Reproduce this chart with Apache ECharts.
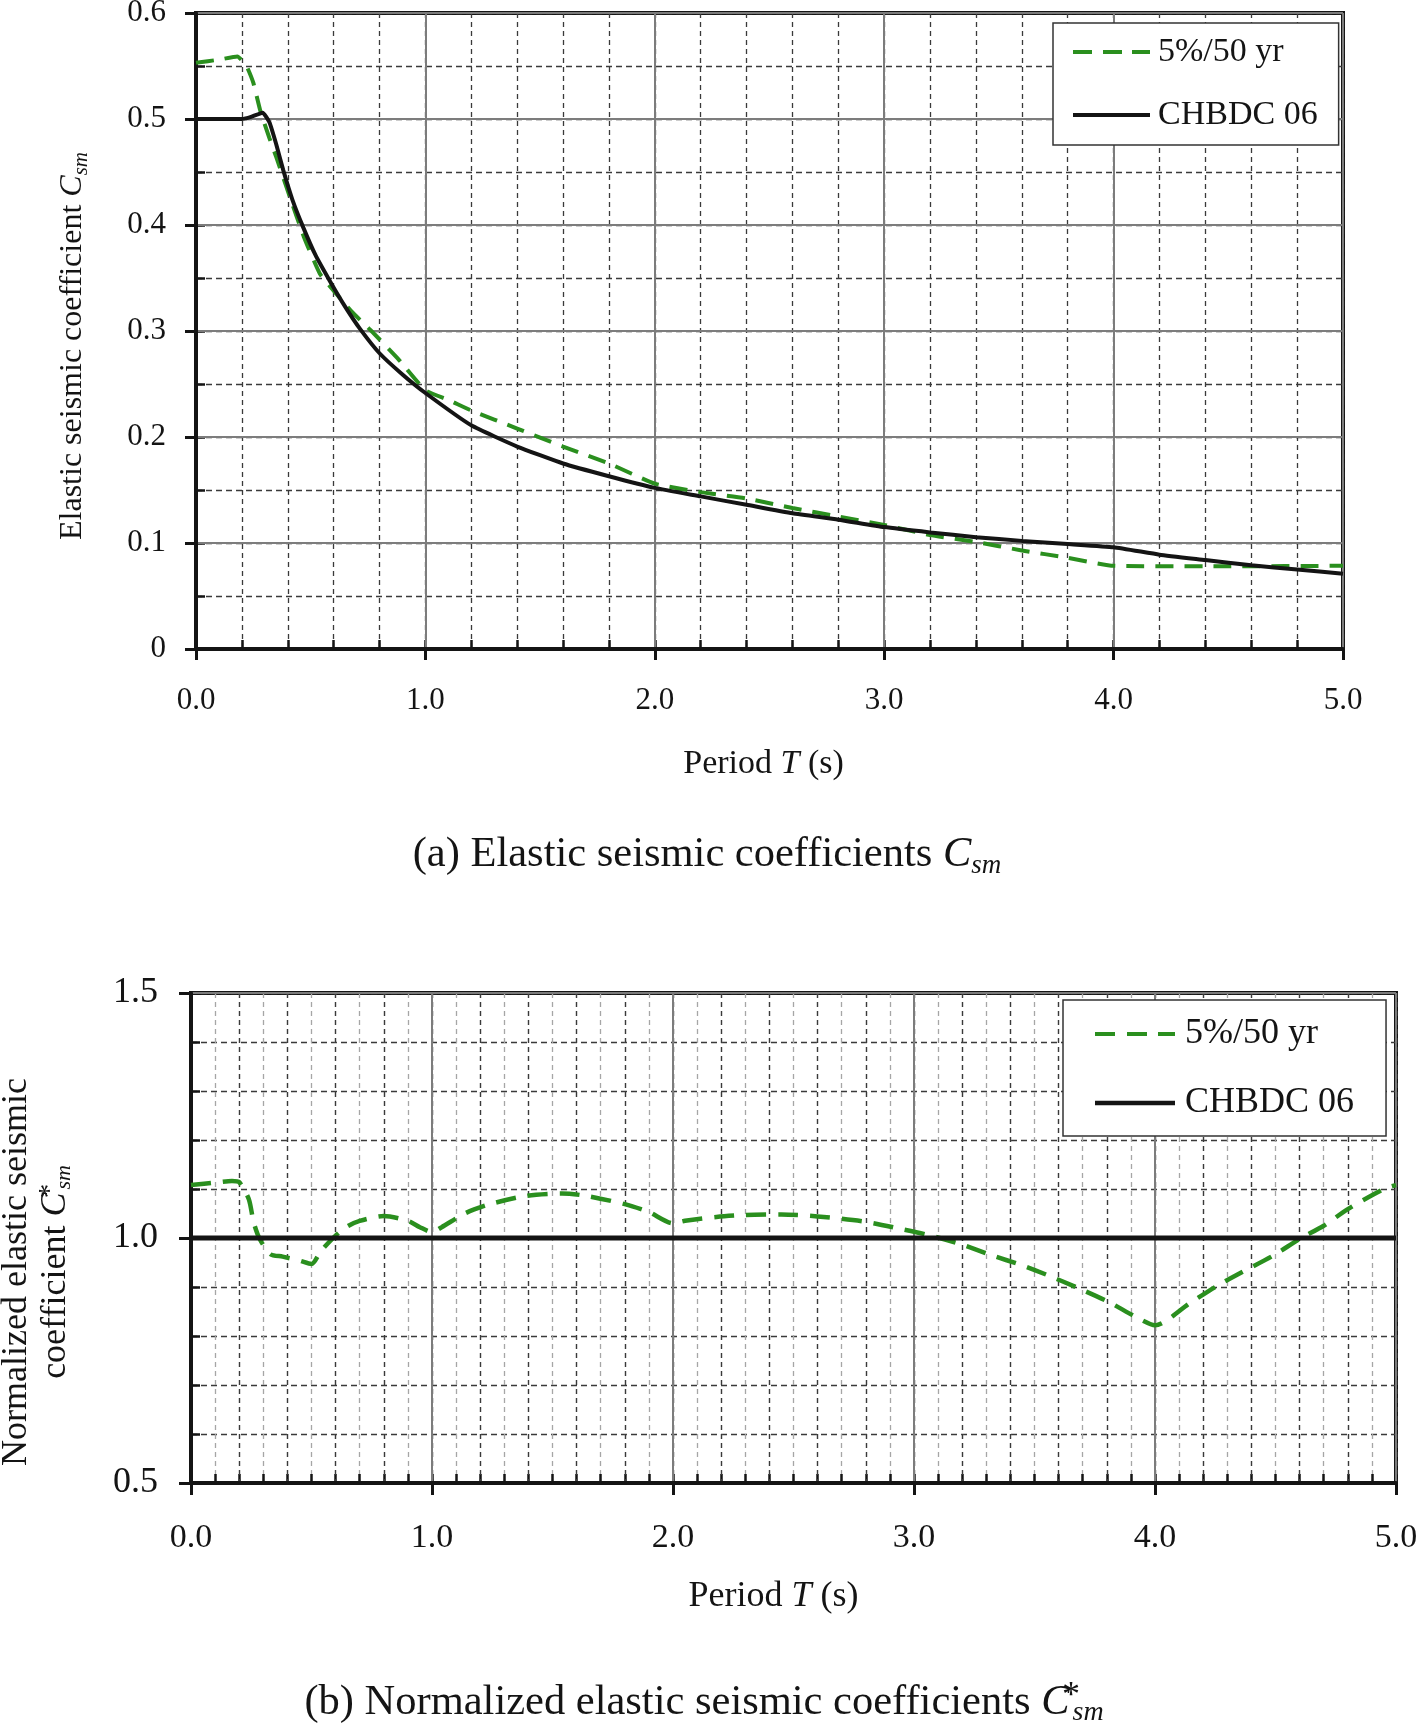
<!DOCTYPE html>
<html>
<head>
<meta charset="utf-8">
<script src="https://cdn.jsdelivr.net/npm/echarts@6/dist/echarts.min.js"></script>
<style>html,body{margin:0;padding:0;background:#fff}#c{width:1418px;height:1729px}</style>
</head>
<body>
<div id="c"></div>
<script>
// ---------- data ----------
const seriesNames = ['5%/50 yr', 'CHBDC 06'];

// (a) elastic seismic coefficients Csm
const hazardT = [0, 0.1, 0.18, 0.22, 0.25, 0.28, 0.32, 0.35, 0.41, 0.47, 0.54, 0.6, 0.68, 0.76, 0.88, 1.0, 1.1, 1.2, 1.4, 1.6, 1.8, 2.0, 2.2, 2.4, 2.6, 2.8, 3.0, 3.2, 3.4, 3.6, 3.8, 4.0, 4.5, 5.0];
const hazardC = [0.553, 0.556, 0.559, 0.550, 0.534, 0.508, 0.482, 0.464, 0.426, 0.389, 0.354, 0.338, 0.318, 0.301, 0.274, 0.244, 0.235, 0.225, 0.208, 0.191, 0.175, 0.156, 0.148, 0.142, 0.133, 0.125, 0.117, 0.1075, 0.101, 0.093, 0.086, 0.0785, 0.078, 0.0785];

const chbdcT = [0, 0.2, 0.24, 0.29, 0.32, 0.35, 0.38, 0.42, 0.467, 0.52, 0.584, 0.65, 0.715, 0.8, 0.9, 1.0, 1.2, 1.4, 1.6, 1.8, 2.0, 2.2, 2.4, 2.6, 2.8, 3.0, 3.2, 3.4, 3.6, 3.8, 4.0, 4.2, 4.4, 4.6, 4.8, 5.0];
const chbdcC = [0.5, 0.5, 0.502, 0.506, 0.497, 0.476, 0.452, 0.424, 0.398, 0.372, 0.347, 0.323, 0.302, 0.279, 0.259, 0.2415, 0.211, 0.191, 0.175, 0.163, 0.152, 0.144, 0.136, 0.128, 0.122, 0.115, 0.110, 0.1055, 0.102, 0.099, 0.096, 0.089, 0.084, 0.079, 0.075, 0.071];

// (b) normalized coefficients C*sm
const normT = [0, 0.1, 0.17, 0.2, 0.24, 0.26, 0.285, 0.33, 0.38, 0.45, 0.5, 0.54, 0.6, 0.65, 0.7, 0.8, 0.9, 0.95, 1.0, 1.04, 1.14, 1.24, 1.39, 1.54, 1.64, 1.8, 1.9, 2.0, 2.05, 2.18, 2.3, 2.45, 2.6, 2.8, 2.95, 3.06, 3.19, 3.32, 3.45, 3.56, 3.68, 3.81, 3.92, 4.0, 4.15, 4.26, 4.36, 4.49, 4.6, 4.7, 4.8, 4.95, 5.0];
const normHazard = [1.108, 1.113, 1.1165, 1.114, 1.079, 1.032, 0.998, 0.967, 0.962, 0.954, 0.947, 0.974, 1.005, 1.024, 1.035, 1.045, 1.035, 1.022, 1.012, 1.022, 1.051, 1.069, 1.086, 1.091, 1.086, 1.069, 1.053, 1.030, 1.035, 1.043, 1.047, 1.048, 1.044, 1.033, 1.018, 1.006, 0.988, 0.965, 0.944, 0.923, 0.898, 0.869, 0.839, 0.822, 0.869, 0.903, 0.930, 0.964, 0.998, 1.025, 1.059, 1.100, 1.108];
const normChbdcT = [0, 5];
const normChbdc = [1.0, 1.0];

// tick labels
const xTickLabels = ['0.0', '1.0', '2.0', '3.0', '4.0', '5.0'];
const yTickLabelsA = ['0', '0.1', '0.2', '0.3', '0.4', '0.5', '0.6'];
const yTickLabelsB = ['0.5', '1.0', '1.5'];

// ---------- styling ----------
const F = "'Liberation Serif', 'Times New Roman', Times, serif";
const INK = '#141414';
const GREEN = '#2a8f1e';
const MAJOR_GRID = '#7c7c7c';
const DARK_DASH = '#3a3a3a';
const LIGHT_DASH = '#a6a6a6';

const zip = (xs, ys) => xs.map((x, i) => [x, ys[i]]);

function richSet(size, subSize, subLH, lineH) {
  const base = { fontFamily: F, color: INK, fill: INK };
  return {
    i: Object.assign({}, base, { fontSize: size, fontStyle: 'italic', lineHeight: lineH }),
    sub: Object.assign({}, base, { fontSize: subSize, fontStyle: 'italic', lineHeight: subLH, verticalAlign: 'bottom' }),
    sup: Object.assign({}, base, { fontSize: Math.round(subSize * 1.3), lineHeight: 12, verticalAlign: 'top', width: 3 })
  };
}

function mainX(grid, labelSize, nameSize, nameGap, tickLen, labelMargin, namePadRight) {
  return {
    type: 'value', gridIndex: grid, position: 'bottom', min: 0, max: 5, interval: 1, z: 1,
    axisLine: { show: true, onZero: false, lineStyle: { color: INK, width: 4 } },
    axisTick: { show: true, inside: false, length: tickLen, lineStyle: { color: INK, width: 3 } },
    axisLabel: { show: true, margin: labelMargin, fontFamily: F, fontSize: labelSize, color: INK,
      formatter: v => xTickLabels[Math.round(v)] },
    splitLine: { show: true, lineStyle: { color: MAJOR_GRID, width: 2, type: 'solid' } },
    name: 'Period {i|T} (s)', nameLocation: 'middle', nameGap: nameGap,
    nameTextStyle: { fontFamily: F, fontSize: nameSize, color: INK, lineHeight: nameSize + 4,
      padding: [0, namePadRight, 0, 0],
      rich: richSet(nameSize, 20, 16, nameSize + 4) }
  };
}
function auxX(grid, interval, ticks, dashColor, z) {
  return {
    type: 'value', gridIndex: grid, position: 'bottom', min: 0, max: 5, interval: interval, z: z,
    axisLine: { show: false, onZero: false },
    axisTick: { show: ticks, inside: true, length: 9, lineStyle: { color: INK, width: 2.5 } },
    axisLabel: { show: false },
    splitLine: { show: true, lineStyle: { color: dashColor, width: 1.3, type: [5, 4] } }
  };
}
function auxY(grid, min, max, interval) {
  return {
    type: 'value', gridIndex: grid, position: 'left', min: min, max: max, interval: interval, z: 0,
    axisLine: { show: false, onZero: false },
    axisTick: { show: true, inside: true, length: 9, lineStyle: { color: INK, width: 2.5 } },
    axisLabel: { show: false },
    splitLine: { show: true, lineStyle: { color: DARK_DASH, width: 1.3, type: [6, 4] } }
  };
}

const chart = echarts.init(document.getElementById('c'), null, { renderer: 'canvas' });

const option = {
  backgroundColor: '#fff',
  animation: false,
  grid: [
    { left: 196, top: 13, width: 1147, height: 636, show: true, borderColor: INK, borderWidth: 4,
      backgroundColor: 'transparent', containLabel: false, outerBoundsMode: 'none' },
    { left: 191, top: 993, width: 1205, height: 490, show: true, borderColor: INK, borderWidth: 4,
      backgroundColor: 'transparent', containLabel: false, outerBoundsMode: 'none' }
  ],
  xAxis: [
    mainX(0, 31, 34, 96, 11, 36, 12),      // 0
    auxX(0, 0.2, true, DARK_DASH, 0),      // 1
    mainX(1, 34, 36, 94, 12, 38, 40),      // 2
    auxX(1, 0.1, true, LIGHT_DASH, 0),     // 3
    auxX(1, 0.2, false, DARK_DASH, 0.5)    // 4
  ],
  yAxis: [
    {
      type: 'value', gridIndex: 0, position: 'left', min: 0, max: 0.6, interval: 0.1, z: 1,
      axisLine: { show: true, onZero: false, lineStyle: { color: INK, width: 4 } },
      axisTick: { show: true, inside: false, length: 11, lineStyle: { color: INK, width: 3 } },
      axisLabel: { margin: 30, fontFamily: F, fontSize: 31, color: INK,
        formatter: v => yTickLabelsA[Math.round(v * 10)] },
      splitLine: { show: true, lineStyle: { color: MAJOR_GRID, width: 2 } },
      name: 'Elastic seismic coefficient {i|C}{sub|sm}', nameLocation: 'middle', nameGap: 104, nameRotate: 90,
      nameTextStyle: { fontFamily: F, fontSize: 32, color: INK, lineHeight: 38, padding: [0, 30, 0, 0],
        rich: richSet(32, 21, 18, 38) }
    },
    auxY(0, 0, 0.6, 0.05),
    {
      type: 'value', gridIndex: 1, position: 'left', min: 0.5, max: 1.5, interval: 0.5, z: 1,
      axisLine: { show: true, onZero: false, lineStyle: { color: INK, width: 4 } },
      axisTick: { show: true, inside: false, length: 12, lineStyle: { color: INK, width: 3 } },
      axisLabel: { margin: 33, fontFamily: F, fontSize: 36, color: INK,
        formatter: v => yTickLabelsB[Math.round((v - 0.5) * 2)] },
      splitLine: { show: true, lineStyle: { color: MAJOR_GRID, width: 2 } },
      name: 'Normalized elastic seismic\ncoefficient {i|C}{sup|*}{sub|sm}', nameLocation: 'middle', nameGap: 116, nameRotate: 90,
      nameMoveOverlap: false,
      nameTextStyle: { fontFamily: F, fontSize: 36, color: INK, lineHeight: 39, padding: [0, 68, 0, 0],
        rich: richSet(36, 22, 18, 39) }
    },
    auxY(1, 0.5, 1.5, 0.1)
  ],
  legend: [
    {
      left: 1053, top: 23, orient: 'vertical', selectedMode: false,
      padding: [12, 21, 13, 20], itemGap: 29, itemWidth: 77, itemHeight: 4,
      backgroundColor: '#fff', borderColor: '#333', borderWidth: 1.5,
      textStyle: { fontFamily: F, fontSize: 34, color: INK, padding: [0, 0, 0, 3] },
      data: [
        { name: seriesNames[0], icon: 'path://M0,0H19V4H0Z M30,0H49V4H30Z M59,0H77V4H59Z', itemStyle: { color: GREEN, borderWidth: 0 } },
        { name: seriesNames[1], icon: 'rect', itemStyle: { color: INK, borderWidth: 0 } }
      ]
    },
    {
      left: 1063, top: 1000, orient: 'vertical', selectedMode: false,
      padding: [16, 32, 15, 32], itemGap: 33, itemWidth: 80, itemHeight: 4.5,
      backgroundColor: '#fff', borderColor: '#333', borderWidth: 1.5,
      textStyle: { fontFamily: F, fontSize: 36, color: INK, padding: [0, 0, 0, 5] },
      data: [
        { name: seriesNames[0], icon: 'path://M0,0H20V4H0Z M32,0H52V4H32Z M63,0H80V4H63Z', itemStyle: { color: GREEN, borderWidth: 0 } },
        { name: seriesNames[1], icon: 'rect', itemStyle: { color: INK, borderWidth: 0 } }
      ]
    }
  ],
  series: [
    { name: seriesNames[0], type: 'line', xAxisIndex: 0, yAxisIndex: 0, showSymbol: false, symbol: 'none', smooth: 0.15,
      data: zip(hazardT, hazardC), lineStyle: { color: GREEN, width: 4, type: [18, 11] }, itemStyle: { color: GREEN }, z: 3 },
    { name: seriesNames[1], type: 'line', xAxisIndex: 0, yAxisIndex: 0, showSymbol: false, symbol: 'none', smooth: 0.15,
      data: zip(chbdcT, chbdcC), lineStyle: { color: INK, width: 4, type: 'solid' }, itemStyle: { color: INK }, z: 3 },
    { name: seriesNames[0], type: 'line', xAxisIndex: 2, yAxisIndex: 2, showSymbol: false, symbol: 'none', smooth: 0.25,
      data: zip(normT, normHazard), lineStyle: { color: GREEN, width: 4.5, type: [20, 12] }, itemStyle: { color: GREEN }, z: 3 },
    { name: seriesNames[1], type: 'line', xAxisIndex: 2, yAxisIndex: 2, showSymbol: false, symbol: 'none',
      data: zip(normChbdcT, normChbdc), lineStyle: { color: INK, width: 5, type: 'solid' }, itemStyle: { color: INK }, z: 4 }
  ],
  graphic: [
    { type: 'text', x: 707, y: 855, z: 10,
      style: { text: '(a) Elastic seismic coefficients {i|C}{sub|sm}', fontFamily: F, fontSize: 42.5, fill: INK,
        align: 'center', verticalAlign: 'middle', lineHeight: 48, rich: richSet(42.5, 27, 22, 48) } },
    { type: 'text', x: 704, y: 1703, z: 10,
      style: { text: '(b) Normalized elastic seismic coefficients {i|C}{sup|*}{sub|sm}', fontFamily: F, fontSize: 42.5, fill: INK,
        align: 'center', verticalAlign: 'middle', lineHeight: 48, rich: richSet(42.5, 28, 22, 48) } }
  ]
};
chart.setOption(option);
</script>
</body>
</html>
